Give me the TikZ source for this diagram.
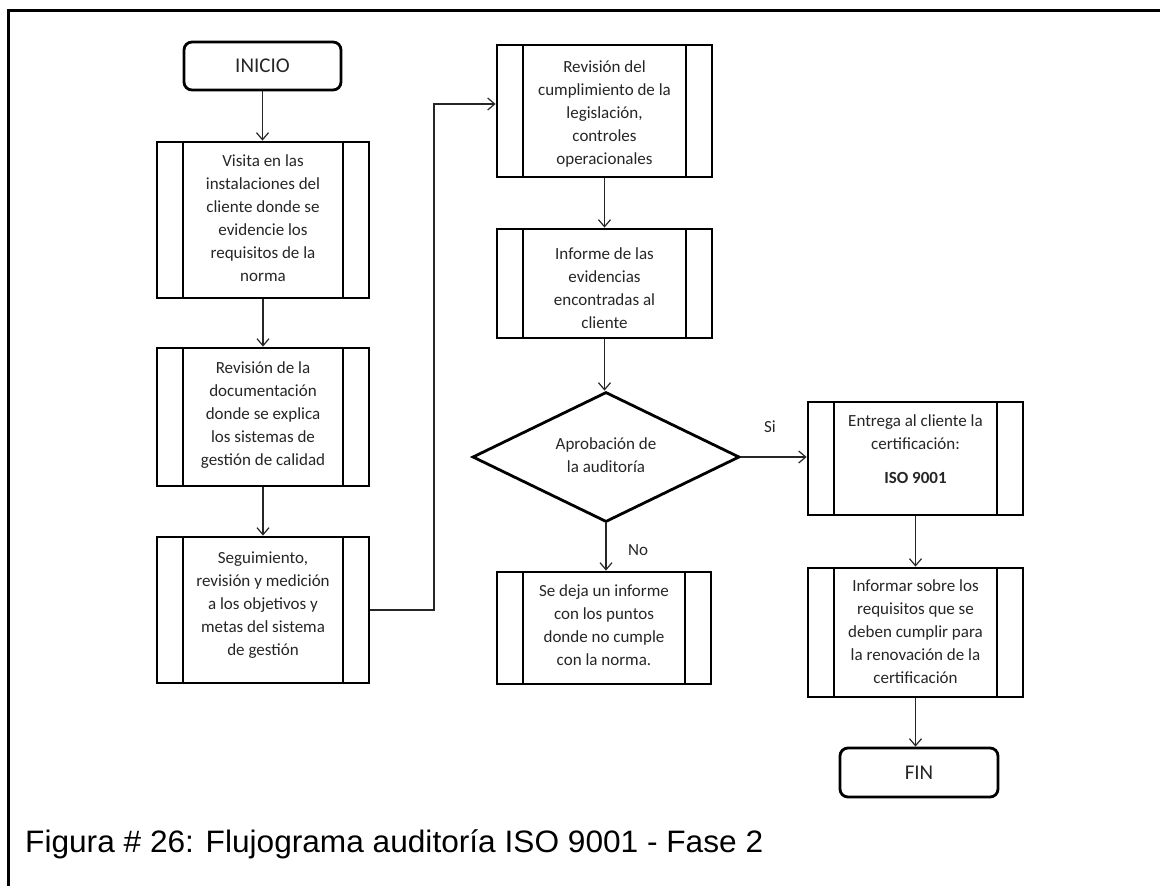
\documentclass[tikz,border=0pt]{standalone}
\usepackage{fontspec}
\setmainfont{Carlito}
\newfontfamily\capfont{Liberation Sans}
\usetikzlibrary{arrows.meta,shapes.geometric}

\tikzset{
  boxfont/.style={font=\fontsize{17}{23}\selectfont, text=black!85},
  proc/.style={draw=black, line width=2.8pt, inner sep=0pt,
    path picture={
      \draw[line width=2pt]
        ([xshift=26pt]path picture bounding box.north west) -- ([xshift=26pt]path picture bounding box.south west)
        ([xshift=-26pt]path picture bounding box.north east) -- ([xshift=-26pt]path picture bounding box.south east);
    }},
  term/.style={draw=black, line width=2.8pt, rounded corners=8pt, inner sep=0pt,
    minimum width=157pt, minimum height=48pt, font=\fontsize{21}{25}\selectfont, text=black!85},
  decision/.style={diamond, draw=black, line width=2.8pt, inner sep=0pt, aspect=2},
  txt/.style={boxfont, align=center, inner sep=0pt, anchor=north, execute at begin node=\strut},
  lab/.style={boxfont, inner sep=0pt},
  arr/.style={-{Straight Barb[length=7pt,width=12pt,line width=1.2pt]}, line width=1.2pt, draw=black!85},
}

\begin{document}
\begin{tikzpicture}[x=1pt,y=-1pt]
\useasboundingbox (0,0) rectangle (1160,886);
\fill[white] (0,0) rectangle (1160,886);

% page frame
\draw[line width=3pt] (8,886) -- (8,10) -- (1160,10);

% left column
\node[term] (ini) at (262.5,66) {INICIO};
\node[proc, minimum width=212pt, minimum height=156pt] (b1) at (263,220) {};
\node[txt] (t1) at ([yshift=-14pt]b1.north) {Visita en las\\instalaciones del\\cliente donde se\\evidencie los\\requisitos de la\\norma};
\node[proc, minimum width=212pt, minimum height=138pt] (b2) at (263,417) {};
\node[txt] (t2) at ([yshift=-15pt]b2.north) {Revisión de la\\documentación\\donde se explica\\los sistemas de\\gestión de calidad};
\node[proc, minimum width=212pt, minimum height=146pt] (b3) at (263,610) {};
\node[txt] (t3) at ([yshift=-16pt]b3.north) {Seguimiento,\\revisión y medición\\a los objetivos y\\metas del sistema\\de gestión};

% middle column
\node[proc, minimum width=215pt, minimum height=132pt] (b4) at (604.5,111) {};
\node[txt] (t4) at ([yshift=-17pt]b4.north) {Revisión del\\cumplimiento de la\\legislación,\\controles\\operacionales};
\node[proc, minimum width=215pt, minimum height=109pt] (b5) at (604.5,283.5) {};
\node[txt] (t5) at ([yshift=-20pt]b5.north) {Informe de las\\evidencias\\encontradas al\\cliente};
\node[decision, minimum width=267pt, minimum height=130pt] (d) at (606,457) {};
\node[boxfont, align=center, inner sep=0pt] (td) at (606,455) {Aprobación de\\la auditoría};
\node[proc, minimum width=214pt, minimum height=112pt] (b6) at (604,628) {};
\node[txt] (t6) at ([yshift=-14pt]b6.north) {Se deja un informe\\con los puntos\\donde no cumple\\con la norma.};

% right column
\node[proc, minimum width=215pt, minimum height=113pt] (b7) at (915.5,458.5) {};
\node[txt] (t7) at ([yshift=-14pt]b7.north) {Entrega al cliente la\\certificación:\\[11pt]\textbf{ISO 9001}};
\node[proc, minimum width=215pt, minimum height=129pt] (b8) at (915.5,632.5) {};
\node[txt] (t8) at ([yshift=-13pt]b8.north) {Informar sobre los\\requisitos que se\\deben cumplir para\\la renovación de la\\certificación};
\node[term, minimum width=158pt, minimum height=49pt] (fin) at (919,772.5) {FIN};

% branch labels
\node[lab] (si) at (770,427) {Si};
\node[lab] (no) at (638,550) {No};

% connectors
\coordinate (turn) at (434,0);
\draw[arr] (ini.south) -- (ini.south |- b1.north);
\draw[arr] (b1.south) -- (b2.north);
\draw[arr] (b2.south) -- (b3.north);
\draw[arr] (b3.east) -- (b3.east -| turn) |- ([yshift=7pt]b4.west);
\draw[arr] (b4.south) -- (b5.north);
\draw[arr] (b5.south) -- (b5.south |- d.north);
\draw[arr] (d.south) -- (d.south |- b6.north);
\draw[arr] (d.east) -- (d.east -| b7.west);
\draw[arr] (b7.south) -- (b8.north);
\draw[arr] (b8.south) -- (b8.south |- fin.north);

% caption
\node[anchor=base west, inner sep=0pt] (cap) at (25,852)
  {\resizebox{738pt}{\height}{\capfont\fontsize{31}{36}\selectfont Figura \# 26: Flujograma auditoría ISO 9001 - Fase 2}};
\end{tikzpicture}
\end{document}
